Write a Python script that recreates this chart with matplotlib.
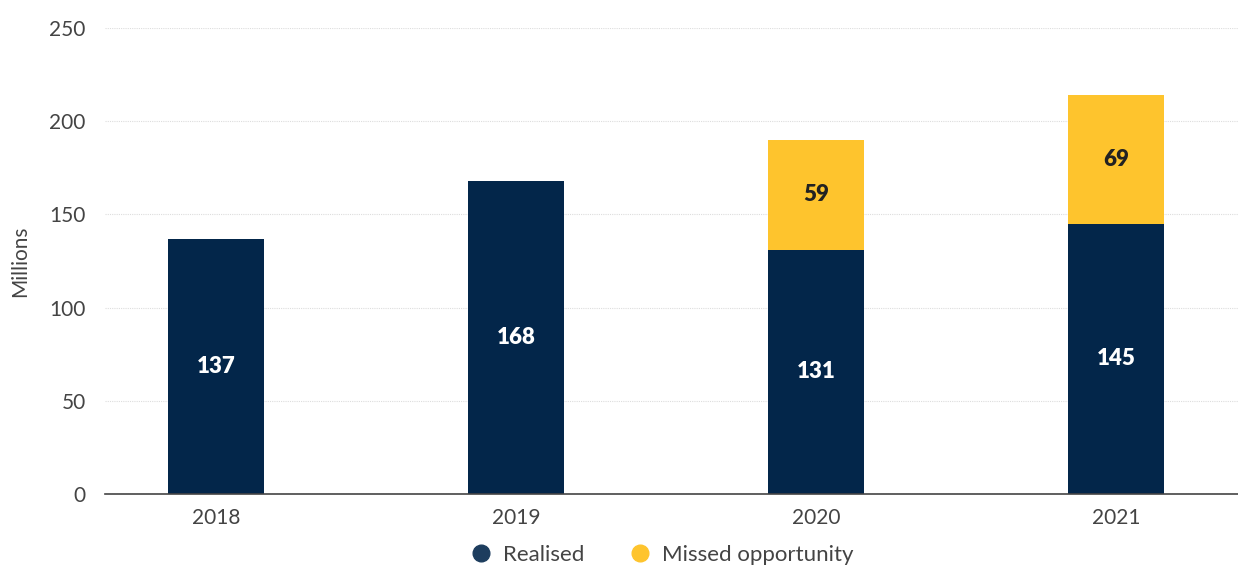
import numpy as np
import matplotlib.pyplot as plt
from matplotlib.lines import Line2D

plt.rcParams["font.family"] = ["Lato", "DejaVu Sans"]

years = ["2018", "2019", "2020", "2021"]
realised = [137, 168, 131, 145]
missed = [0, 0, 59, 69]

navy = "#03264a"
yellow = "#fec42d"
grey = "#444444"

fig = plt.figure(figsize=(12.38, 5.66), dpi=100)
ax = fig.add_axes([105 / 1238, 1 - 494 / 566, 1 - 105 / 1238, (494 - 28) / 566])

x = np.arange(len(years))
ax.bar(x, realised, width=0.32, color=navy, zorder=3)
ax.bar(x, missed, width=0.32, bottom=realised, color=yellow, zorder=3)

for i in range(len(years)):
    ax.text(x[i], realised[i] / 2, str(realised[i]), ha="center", va="center",
            color="white", fontsize=16, fontweight="heavy", zorder=4)
    if missed[i] > 0:
        ax.text(x[i], realised[i] + missed[i] / 2, str(missed[i]), ha="center",
                va="center", color="#222222", fontsize=16, fontweight="heavy", zorder=4)

ax.set_xlim(-0.37, 3.4067)
ax.set_ylim(0, 250)
ax.set_yticks([0, 50, 100, 150, 200, 250])
ax.set_xticks(x)
ax.set_xticklabels(years)
ax.tick_params(axis="both", length=0, labelsize=15, labelcolor=grey)
ax.tick_params(axis="y", pad=14)
ax.tick_params(axis="x", pad=10)
ax.yaxis.grid(True, color="#dddddd", linestyle=(0, (1, 1)), linewidth=0.8, zorder=0)

for s in ["top", "right", "left"]:
    ax.spines[s].set_visible(False)
ax.spines["bottom"].set_color("#444444")
ax.spines["bottom"].set_linewidth(1.2)
ax.spines["bottom"].set_zorder(5)

ax.set_ylabel("Millions", fontsize=15, color=grey)
ax.yaxis.set_label_coords(-75 / 1133, 0.5)

handles = [
    Line2D([], [], marker="o", linestyle="", markersize=12, color="#1d3d5e"),
    Line2D([], [], marker="o", linestyle="", markersize=12, color=yellow),
]
fig.legend(handles, ["Realised", "Missed opportunity"], loc="center",
           bbox_to_anchor=(656 / 1238, 1 - 555 / 566), ncol=2, frameon=False,
           fontsize=16, labelcolor=grey, handletextpad=0.0, columnspacing=1.5)

fig.savefig("out.png", dpi=100)
